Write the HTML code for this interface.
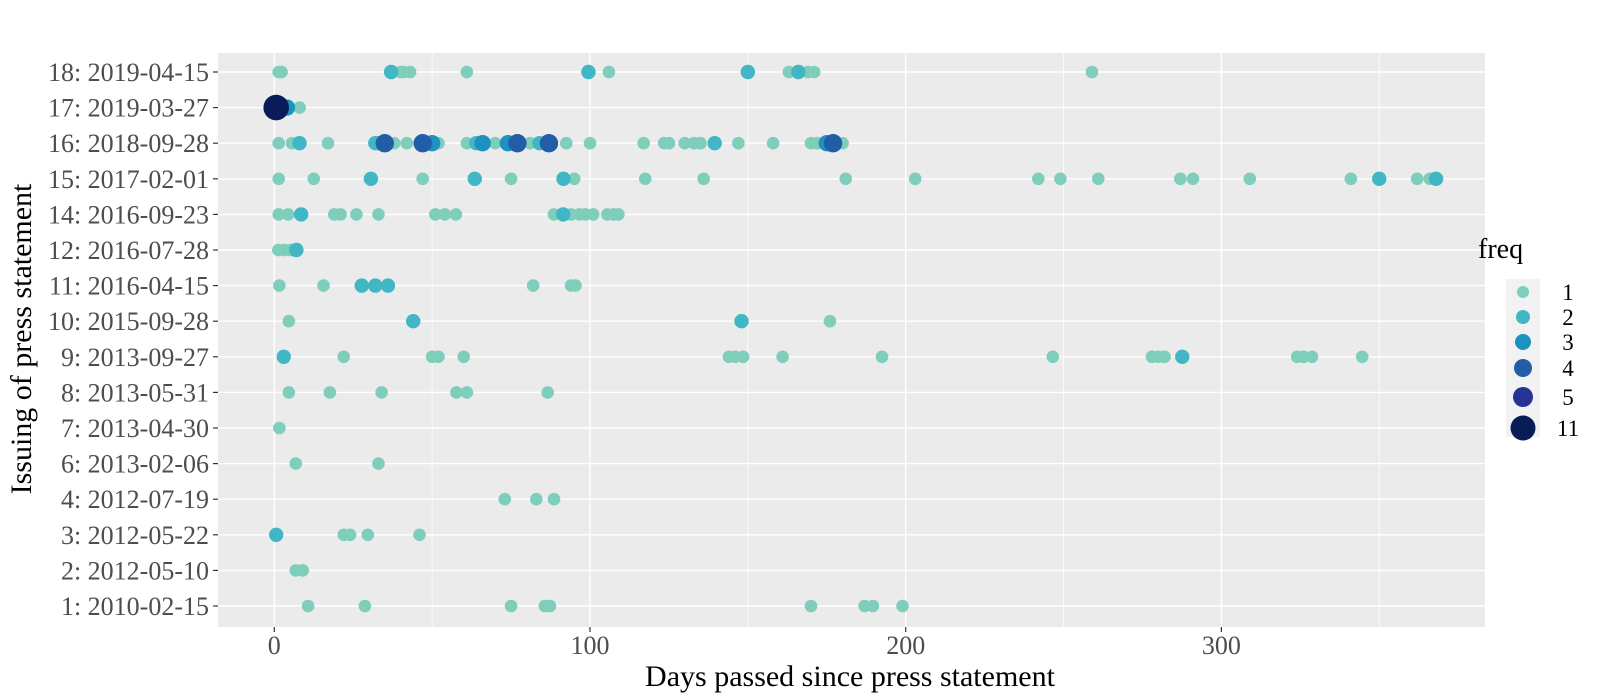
<!DOCTYPE html>
<html><head><meta charset="utf-8"><style>
html,body{margin:0;padding:0;background:#fff;overflow:hidden;width:1600px;height:700px;}
svg{display:block;}
svg text{font-family:"Liberation Serif",serif;}
</style></head><body>
<svg id="chart" width="1600" height="700" viewBox="0 0 1600 700">
<rect x="218" y="53" width="1267" height="574" fill="#ebebeb"/>
<g id="grid"></g><g id="pts"></g><g id="axes"></g>
<text x="850" y="686" font-size="30" text-anchor="middle" fill="#000">Days passed since press statement</text>
<text transform="translate(31,339) rotate(-90)" font-size="30" text-anchor="middle" fill="#000">Issuing of press statement</text>
<g>
<text x="1478" y="258" font-size="28" fill="#000">freq</text>
<rect x="1506" y="279" width="34" height="158" fill="#f2f2f2"/>
<g id="leg"></g>
</g>
</svg>
<script>
const categories=["1: 2010-02-15","2: 2012-05-10","3: 2012-05-22","4: 2012-07-19","6: 2013-02-06","7: 2013-04-30","8: 2013-05-31","9: 2013-09-27","10: 2015-09-28","11: 2016-04-15","12: 2016-07-28","14: 2016-09-23","15: 2017-02-01","16: 2018-09-28","17: 2019-03-27","18: 2019-04-15"];
const xTicks=[0,100,200,300];
const freqLevels=[1,2,3,4,5,11];
const freqColors=["#7fcdbb","#41b6c4","#1d91c0","#225ea8","#253494","#081d58"];
const pointCat=[];const pointDays=[];const pointFreq=[];
const raw={
0:[[10.7,1],[28.7,1],[75,1],[85.7,1],[87.3,1],[170,1],[187,1],[189.6,1],[199,1]],
1:[[6.8,1],[9,1]],
2:[[0.6,2],[22,1],[24,1],[29.6,1],[46,1]],
3:[[73,1],[83,1],[88.6,1]],
4:[[6.8,1],[33,1]],
5:[[1.6,1]],
6:[[4.6,1],[17.6,1],[34,1],[57.7,1],[61,1],[86.6,1]],
7:[[3,2],[22,1],[50,1],[52,1],[60,1],[144,1],[146,1],[148.5,1],[161,1],[192.5,1],[246.6,1],[278,1],[280,1],[282,1],[287.6,2],[324,1],[326,1],[328.7,1],[344.6,1]],
8:[[4.6,1],[44,2],[148,2],[176,1]],
9:[[1.6,1],[15.6,1],[27.7,2],[32,2],[36,2],[82,1],[94,1],[95.4,1]],
10:[[1.3,1],[3.3,1],[5.2,1],[7,2]],
11:[[1.4,1],[4.4,1],[8.5,2],[19,1],[21,1],[26,1],[33,1],[51,1],[54,1],[57.5,1],[88.6,1],[91.5,2],[94,1],[96.6,1],[98.5,1],[101,1],[105.5,1],[107.5,1],[109,1]],
12:[[1.4,1],[12.5,1],[30.6,2],[47,1],[63.5,2],[75,1],[91.6,2],[95,1],[117.5,1],[136,1],[181,1],[203,1],[242,1],[249,1],[261,1],[287,1],[291,1],[309,1],[341,1],[350,2],[362,1],[366,1],[368,2]],
13:[[1.4,1],[5.6,1],[8,2],[17,1],[32,2],[33,2],[35,4],[38,1],[42,1],[47,4],[50,3],[52,1],[61,1],[64,2],[66,3],[70,1],[74,3],[77,4],[81,1],[84,2],[87,4],[92.5,1],[100,1],[117,1],[123.5,1],[125,1],[130,1],[133,1],[135,1],[139.5,2],[147,1],[158,1],[170,1],[172,1],[175,3],[177,4],[180,1]],
14:[[4,3],[8,1],[0.6,11]],
15:[[1.4,1],[2.3,1],[37,2],[40,1],[41,1],[43,1],[61,1],[99.5,2],[106,1],[150,2],[163,1],[166,2],[169,1],[171,1],[259,1]]
};
for(const k in raw){for(const p of raw[k]){pointCat.push(+k);pointDays.push(p[0]);pointFreq.push(p[1]);}}
const NS="http://www.w3.org/2000/svg";
const PL=218,PR=1485,PT=53,PB=627;
const X0=274.3,XS=3.157,Y0=606,YS=(606-72)/15;
const xs=d=>X0+d*XS, ys=i=>Y0-i*YS;
const radius=f=>{const i=freqLevels.indexOf(f);return [6.3,7.2,8.2,9.2,10.2,12.8][i];};
const legRadius=f=>{const i=freqLevels.indexOf(f);return [6,7,8,9,10,12.5][i];};
const color=f=>freqColors[freqLevels.indexOf(f)];
function mk(tag,attrs,parent){const e=document.createElementNS(NS,tag);for(const a in attrs)e.setAttribute(a,attrs[a]);parent.appendChild(e);return e;}
const grid=document.getElementById('grid'),axes=document.getElementById('axes'),pts=document.getElementById('pts'),leg=document.getElementById('leg');
for(let m=-50;m<=400;m+=100){const x=xs(m);if(x>PL&&x<PR){const l=mk('line',{x1:x,x2:x,y1:PT,y2:PB,stroke:'#fff','stroke-width':0.7},grid);

}}
xTicks.forEach(t=>{const x=xs(t);const l=mk('line',{x1:x,x2:x,y1:PT,y2:PB,stroke:'#fff','stroke-width':1.4},grid);


const tk=mk('line',{x1:x,x2:x,y1:PB,y2:PB+5,stroke:'#333','stroke-width':1.2},axes);


const tx=mk('text',{x:x,y:654,'font-size':26,'text-anchor':'middle',fill:'#4d4d4d'},axes);tx.textContent=t;

});
categories.forEach((c,i)=>{const y=ys(i);const l=mk('line',{x1:PL,x2:PR,y1:y,y2:y,stroke:'#fff','stroke-width':1.4},grid);


const tk=mk('line',{x1:PL-5,x2:PL,y1:y,y2:y,stroke:'#333','stroke-width':1.2},axes);


const tx=mk('text',{x:209,y:y+9,'font-size':26,'text-anchor':'end',fill:'#4d4d4d'},axes);tx.textContent=c;

});
const order=pointFreq.map((f,i)=>i).sort((a,b)=>pointFreq[a]-pointFreq[b]);
order.forEach(i=>{const c=mk('circle',{cx:xs(pointDays[i]),cy:ys(pointCat[i]),r:radius(pointFreq[i]),fill:color(pointFreq[i])},pts);

});
const legY=[292,317,342,368,397,428];
freqLevels.forEach((f,i)=>{const c=mk('circle',{cx:1523,cy:legY[i],r:legRadius(f),fill:color(f)},leg);


const t=mk('text',{x:1568,y:legY[i]+8,'font-size':23,'text-anchor':'middle',fill:'#000'},leg);t.textContent=f;

});
</script>
</body></html>
